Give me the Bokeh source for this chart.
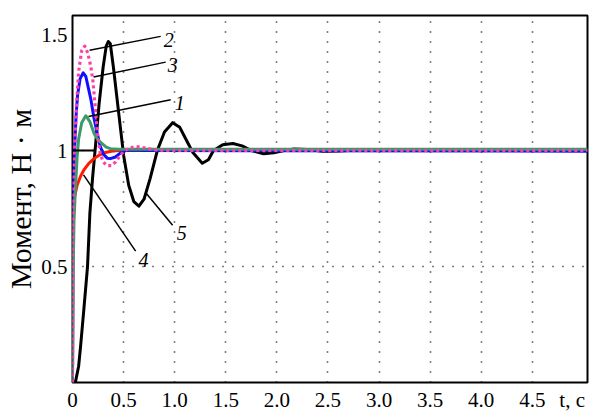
from bokeh.plotting import figure
from bokeh.models import Label, FixedTicker, Range1d, CustomJSTickFormatter
from bokeh.embed import file_html
from bokeh.resources import INLINE

# ---------------- data ----------------
# curve 1 (green)
t1 = [0, 0.005, 0.015, 0.03, 0.045, 0.06, 0.09, 0.13, 0.17, 0.21, 0.25, 0.29, 0.33, 0.37, 0.45, 0.6, 5.04]
m1 = [0, 0.45, 0.7, 0.85, 0.97, 1.05, 1.12, 1.15, 1.125, 1.075, 1.045, 1.03, 1.015, 1.008, 1.005, 1.005, 1.005]
# curve 2 (pink, dotted)
t2 = [0, 0.004, 0.01, 0.02, 0.04, 0.06, 0.09, 0.12, 0.15, 0.18, 0.2, 0.22, 0.245, 0.27, 0.3, 0.34, 0.38,
      0.42, 0.46, 0.5, 0.55, 0.62, 0.7, 0.8, 0.9, 5.04]
m2 = [0, 0.6, 0.85, 1.0, 1.2, 1.34, 1.43, 1.45, 1.42, 1.36, 1.3, 1.2, 1.07, 0.99, 0.95, 0.935, 0.935,
      0.95, 0.975, 0.995, 1.01, 1.017, 1.012, 1.003, 1.0, 1.0]
# curve 3 (blue)
t3 = [0, 0.004, 0.01, 0.02, 0.035, 0.05, 0.075, 0.105, 0.13, 0.155, 0.18, 0.21, 0.24, 0.27, 0.30, 0.34,
      0.37, 0.42, 0.47, 0.52, 0.6, 0.7, 5.04]
m3 = [0, 0.6, 0.85, 1.0, 1.15, 1.24, 1.31, 1.335, 1.32, 1.27, 1.22, 1.14, 1.077, 1.02, 0.985, 0.967,
      0.965, 0.972, 0.99, 1.0, 1.002, 1.0, 0.997]
# curve 4 (red)
t4 = [0, 0.004, 0.01, 0.02, 0.045, 0.08, 0.11, 0.16, 0.21, 0.26, 0.31, 0.38, 0.45, 0.6, 5.04]
m4 = [0, 0.6, 0.77, 0.8, 0.85, 0.89, 0.915, 0.945, 0.965, 0.98, 0.99, 0.997, 1.0, 1.0, 1.0]
# curve 5 (black)
t5 = [0, 0.03, 0.06, 0.08, 0.11, 0.147, 0.17, 0.196, 0.225, 0.26, 0.30, 0.33, 0.35, 0.37, 0.40, 0.45,
      0.50, 0.55, 0.60, 0.65, 0.70, 0.76, 0.83, 0.90, 0.98, 1.05, 1.12, 1.18, 1.27, 1.33, 1.38, 1.47,
      1.57, 1.66, 1.75, 1.87, 1.97, 2.07, 2.17, 2.3, 2.45, 2.6, 2.8, 3.0, 3.3, 3.6, 4.0, 4.5, 5.04]
m5 = [0, 0.005, 0.07, 0.16, 0.31, 0.5, 0.73, 0.88, 1.02, 1.2, 1.36, 1.45, 1.47, 1.46, 1.36, 1.17,
      0.98, 0.85, 0.78, 0.76, 0.79, 0.88, 1.0, 1.08, 1.12, 1.1, 1.04, 0.99, 0.945, 0.96, 1.0, 1.025,
      1.03, 1.02, 1.0, 0.986, 0.99, 1.0, 1.007, 1.004, 0.997, 0.998, 1.002, 1.0, 1.001, 1.0, 1.0, 1.0, 1.0]

# tick values / labels (the last x "tick" carries the axis title "t, c", as in the source)
x_ticks = [0, 0.5, 1.0, 1.5, 2.0, 2.5, 3.0, 3.5, 4.0, 4.5, 4.89]
x_tick_labels = ["0", "0.5", "1.0", "1.5", "2.0", "2.5", "3.0", "3.5", "4.0", "4.5", "t, c"]
y_ticks = [0.5, 1.0, 1.5]
y_tick_labels = ["0.5", "1", "1.5"]
x_grid = [0.5, 1.0, 1.5, 2.0, 2.5, 3.0, 3.5, 4.0, 4.5]
y_grid = [0.5, 1.0]
y_title = "Момент, Н · м"

# curve number labels with leader lines
ann_text = ["2", "3", "1", "4", "5"]
ann_tx = [0.941, 0.98, 1.049, 0.696, 1.069]
ann_ty = [1.477, 1.37, 1.204, 0.526, 0.645]
lead_x0 = [0.167, 0.206, 0.157, 0.108, 0.725]
lead_y0 = [1.432, 1.317, 1.147, 0.895, 0.814]
lead_x1 = [0.863, 0.912, 0.961, 0.618, 0.980]
lead_y1 = [1.492, 1.381, 1.219, 0.566, 0.678]

FONT = "Liberation Serif"

p = figure(width=595, height=414, output_backend="svg", toolbar_location=None,
           x_range=Range1d(0, 5.04), y_range=Range1d(0, 1.582),
           min_border_left=72, min_border_right=8, min_border_top=15, min_border_bottom=28)
p.background_fill_color = "white"
p.border_fill_color = "white"
p.outline_line_color = "black"
p.outline_line_width = 2

# grids
p.xgrid.ticker = FixedTicker(ticks=x_grid)
p.ygrid.ticker = FixedTicker(ticks=y_grid)
for g in (p.xgrid[0], p.ygrid[0]):
    g.grid_line_color = "black"
    g.grid_line_dash = "1 9"
    g.grid_line_width = 1.6

FMT = ("for (let k = 0; k < tvals.length; k++) {"
       " if (Math.abs(tvals[k] - tick) < 1e-9) { return tlabels[k]; } }"
       " return '';")

# axes
xa = p.xaxis[0]
ya = p.yaxis[0]
xa.ticker = FixedTicker(ticks=x_ticks)
xa.formatter = CustomJSTickFormatter(args=dict(tvals=x_ticks, tlabels=x_tick_labels), code=FMT)
ya.ticker = FixedTicker(ticks=y_ticks)
ya.formatter = CustomJSTickFormatter(args=dict(tvals=y_ticks, tlabels=y_tick_labels), code=FMT)
for ax in (xa, ya):
    ax.axis_line_color = None
    ax.major_tick_line_color = None
    ax.minor_tick_line_color = None
    ax.major_tick_out = 0
    ax.major_tick_in = 0
    ax.major_label_text_font = FONT
    ax.major_label_text_font_size = "21px"
    ax.major_label_text_color = "black"
xa.major_label_standoff = 5
ya.major_label_standoff = 5
ya.axis_label = y_title
ya.axis_label_text_font = FONT
ya.axis_label_text_font_size = "30px"
ya.axis_label_text_font_style = "normal"
ya.axis_label_text_color = "black"
ya.axis_label_standoff = 1

# curves
p.line(t5, m5, line_color="black", line_width=3, line_join="round")
p.line(t4, m4, line_color="#ff1a00", line_width=3, line_join="round")
p.line(t3, m3, line_color="#1010ff", line_width=3, line_join="round")
p.line(t1, m1, line_color="#3a9a68", line_width=3, line_join="round")
p.line(t2, m2, line_color="#ff3fa3", line_width=3.2, line_dash="3 3", line_join="round")

# short level mark at 1
p.line([0, 0.225], [1.0, 1.0], line_color="black", line_width=2)

# leaders and curve numbers
for i in range(len(ann_text)):
    p.line([lead_x0[i], lead_x1[i]], [lead_y0[i], lead_y1[i]], line_color="black", line_width=1.5)
    p.add_layout(Label(x=ann_tx[i], y=ann_ty[i], text=ann_text[i], text_font=FONT,
                       text_font_style="italic", text_font_size="20px",
                       text_align="center", text_baseline="middle", text_color="black"))

open("out.html", "w").write(file_html(p, INLINE))
